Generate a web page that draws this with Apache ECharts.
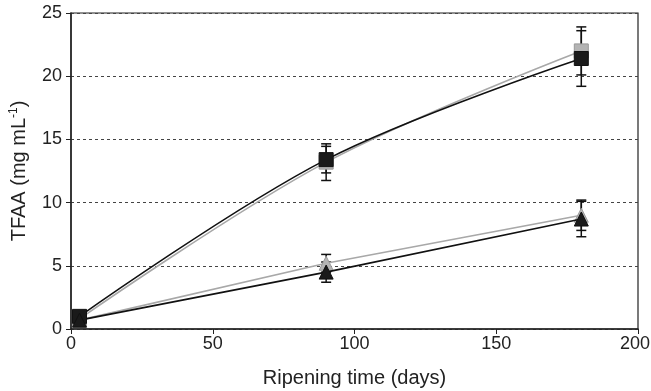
<!DOCTYPE html>
<html>
<head>
<meta charset="utf-8">
<script src="https://cdn.jsdelivr.net/npm/echarts@6/dist/echarts.min.js"></script>
<style>html,body{margin:0;padding:0;background:#fff}#c{width:651px;height:391px}</style>
</head>
<body>
<div id="c"></div>
<script>
var days = [3, 90, 180];
var sqBlack = [1.0, 13.4, 21.4];
var sqGray = [0.8, 13.2, 22.0];
var triBlack = [0.7, 4.5, 8.7];
var triGray = [0.7, 5.2, 9.0];
var errSqBlack = [0, 1.05, 2.2];
var errSqGray = [0, 1.45, 1.9];
var errTriBlack = [0, 0.8, 1.4];
var errTriGray = [0, 0.7, 1.2];
var xTicks = [0, 50, 100, 150, 200];
var yTicks = [0, 5, 10, 15, 20, 25];

function pts(vals){ return days.map(function(d,i){ return [d, vals[i]]; }); }
function errs(vals, e){
  var out = [];
  days.forEach(function(d,i){ if (e[i] > 0) out.push([d, vals[i]-e[i], vals[i]+e[i]]); });
  return out;
}
function errSeries(data){
  return {
    type: 'custom', z: 3, silent: true,
    renderItem: function(params, api){
      var lo = api.coord([api.value(0), api.value(1)]);
      var hi = api.coord([api.value(0), api.value(2)]);
      var w = 5;
      var st = {stroke: '#111', lineWidth: 1.5};
      return {type: 'group', children: [
        {type: 'line', shape: {x1: lo[0], y1: lo[1], x2: hi[0], y2: hi[1]}, style: st},
        {type: 'line', shape: {x1: lo[0]-w, y1: lo[1], x2: lo[0]+w, y2: lo[1]}, style: st},
        {type: 'line', shape: {x1: hi[0]-w, y1: hi[1], x2: hi[0]+w, y2: hi[1]}, style: st}
      ]};
    },
    encode: {x: 0, y: [1, 2]},
    data: data
  };
}
var font = "'Liberation Sans', Arial, sans-serif";
var chart = echarts.init(document.getElementById('c'), null, {renderer: 'canvas'});
chart.setOption({
  animation: false,
  grid: {left: 71, right: 13, top: 13, bottom: 62, containLabel: false, outerBoundsMode: 'none',
    show: true, borderColor: '#222', borderWidth: 1.2, backgroundColor: 'transparent'},
  xAxis: {
    type: 'value', min: 0, max: 200, interval: 50,
    name: 'Ripening time (days)', nameLocation: 'middle', nameGap: 39,
    nameTextStyle: {fontFamily: font, fontSize: 20, color: '#222'},
    axisLine: {show: true, lineStyle: {color: '#222', width: 1.5}},
    axisTick: {show: true, length: 5, lineStyle: {color: '#222'}},
    axisLabel: {fontFamily: font, fontSize: 18, color: '#222', margin: 6,
      formatter: function(v){
        if (xTicks.indexOf(v) < 0) return '';
        return v === 200 ? '{r|' + v + '}' : String(v);
      },
      rich: {r: {fontFamily: font, fontSize: 18, color: '#222', padding: [0, 6, 0, 0]}}},
    splitLine: {show: false}
  },
  yAxis: {
    type: 'value', min: 0, max: 25, interval: 5,
    name: '{a|TFAA (mg mL}{s|-1}{a|)}', nameLocation: 'middle', nameGap: 41, nameRotate: 90,
    nameTextStyle: {rich: {
      a: {fontFamily: font, fontSize: 20, color: '#222'},
      s: {fontFamily: font, fontSize: 12, color: '#222', verticalAlign: 'top', padding: [0,0,10,0]}
    }},
    axisLine: {show: true, lineStyle: {color: '#222', width: 1.5}},
    axisTick: {show: true, length: 5, lineStyle: {color: '#222'}},
    axisLabel: {fontFamily: font, fontSize: 18, color: '#222', margin: 9,
      formatter: function(v){ return yTicks.indexOf(v) >= 0 ? String(v) : ''; }},
    splitLine: {show: true, lineStyle: {color: '#444', type: [3, 3], width: 1}}
  },
  series: [
    errSeries(errs(sqGray, errSqGray)),
    errSeries(errs(sqBlack, errSqBlack)),
    errSeries(errs(triGray, errTriGray)),
    errSeries(errs(triBlack, errTriBlack)),
    {type: 'line', z: 4, data: pts(sqGray), smooth: 0.35, symbol: 'rect', symbolSize: 14,
      lineStyle: {color: '#a8a8a8', width: 1.6}, itemStyle: {color: '#b4b4b4', borderColor: '#999', borderWidth: 1}},
    {type: 'line', z: 5, data: pts(sqBlack), smooth: 0.35, symbol: 'rect', symbolSize: 14,
      lineStyle: {color: '#111', width: 1.6}, itemStyle: {color: '#1a1a1a', borderColor: '#111', borderWidth: 1}},
    {type: 'line', z: 4, data: pts(triGray), symbol: 'triangle', symbolSize: 14,
      lineStyle: {color: '#a8a8a8', width: 1.6}, itemStyle: {color: '#b4b4b4', borderColor: '#999', borderWidth: 1}},
    {type: 'line', z: 5, data: pts(triBlack), symbol: 'triangle', symbolSize: 14,
      lineStyle: {color: '#111', width: 1.6}, itemStyle: {color: '#1a1a1a', borderColor: '#111', borderWidth: 1}}
  ]
});
</script>
</body>
</html>
